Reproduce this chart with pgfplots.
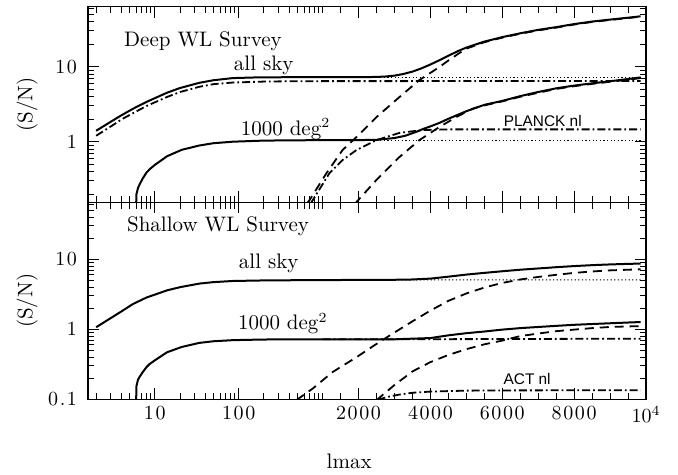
\documentclass[border=0pt]{standalone}
\usepackage{fontspec}
\newfontfamily\helv{Liberation Sans}
\newfontfamily\tickfont[LetterSpace=8]{Latin Modern Roman}
\usepackage{pgfplots}
\pgfplotsset{compat=1.18}

\tikzset{
  sol/.style={line width=1pt},
  dsh/.style={line width=0.9pt, dash pattern=on 4.5pt off 3pt},
  dd/.style={line width=0.9pt, dash pattern=on 4pt off 1.5pt on 0.9pt off 1.5pt},
  dot/.style={line width=0.5pt, dash pattern=on 0.6pt off 1.2pt},
}
\newcommand\lab{\fontsize{10.5}{12}\selectfont}
\newcommand\tck{\tickfont\fontsize{10}{12}\selectfont}
\newcommand\xlist{2,3,4,5,6,7,8,9,20,30,40,50,60,70,80,90,200,300,400,500,600,700,800,900,1000,1500,2500,3000,3500,4500,5000,5500,6500,7000,7500,8500,9000,9500}
\newcommand\ylist{0.2,0.3,0.4,0.5,0.6,0.7,0.8,0.9,2,3,4,5,6,7,8,9,20,30,40,50,60}

\begin{document}
\begin{tikzpicture}
% ---------------- Deep survey ----------------
\begin{axis}[name=top, at={(0,0)}, anchor=south west,
  scale only axis, width=279pt, height=97.8pt,
  % x axis: log up to l=1000, linear above
  x coord trafo/.code={\pgfmathparse{#1<=1000 ? log10(#1) : 3+(#1-1000)/2335}},
  xmin=1.6, xmax=10000,
  ymode=log, ymin=0.1556, ymax=63.1,
  xtick={10,100,2000,4000,6000,8000,10000}, xticklabels={,,,,,,},
  minor xtick/.expanded={\xlist},
  ytick={1,10}, yticklabels={1,10},
  minor ytick/.expanded={\ylist},
  tick pos=both, tick align=inside,
  major tick length=5.5pt, minor tick length=3.2pt,
  every tick/.style={black, line width=0.45pt},
  axis line style={line width=0.7pt},
  tick label style={font=\tck},
  yticklabel style={xshift=-2pt},
  label style={font=\lab},
  ylabel={(S/N)},
  ylabel style={at={(rel axis cs:-0.1093,0.5)}, anchor=center},
  no markers]
% all sky, solid
\addplot[black, sol] coordinates {(2,1.40)(3,1.85)(4,2.25)(5.5,2.75)(8,3.4)(14,4.5)(20,5.2)(34,6.1)(50,6.6)(85,7.05)(150,7.18)(215,7.22)(500,7.25)(1000,7.25)(2000,7.26)(2500,7.3)(2750,7.4)(3000,7.6)(3250,8.0)(3500,8.6)(3750,9.5)(4000,10.7)(4250,12.2)(4500,14.0)(4750,16.0)(5000,18.0)(5500,21.6)(6000,24.8)(6500,27.9)(7000,31)(7500,33.7)(8000,37)(8500,40)(9000,42.5)(9500,45)(9850,47)};
% all sky, dash-dot
\addplot[black, dd] coordinates {(2,1.2)(3,1.6)(4,1.98)(5.5,2.4)(8,3.0)(14,3.95)(20,4.6)(34,5.4)(50,5.85)(85,6.15)(215,6.35)(500,6.4)(1000,6.42)(9850,6.45)};
% all sky, dotted
\addplot[black, dot] coordinates {(1000,7.25)(9850,7.25)};
% all sky, dashed
\addplot[black, dsh] coordinates {(650,0.15)(700,0.167)(1111,0.383)(1556,0.775)(1944,1.155)(2500,2.13)(3139,3.94)(3694,6.64)(4250,9.9)(4500,12.1)(4806,15.2)(5000,17.4)(5500,21.2)(6000,24.4)(6500,27.5)(7000,30.5)(7500,33.2)(8000,36.5)(8500,39.5)(9000,42)(9500,44.5)(9850,46.5)};
% 1000 deg2, solid
\addplot[black, sol] coordinates {(6.0,0.147)(6.05,0.2)(6.3,0.24)(6.6,0.27)(7.2,0.325)(8,0.39)(8.7,0.43)(10,0.49)(14,0.64)(21,0.78)(34,0.89)(50,0.955)(85,1.0)(200,1.035)(1000,1.05)(2000,1.05)(2500,1.06)(3000,1.12)(3300,1.2)(3600,1.35)(3800,1.48)(4000,1.6)(4250,1.78)(4500,2.02)(5000,2.55)(5500,3.1)(6000,3.5)(6500,4.05)(7000,4.6)(7500,5.15)(8000,5.6)(8500,6.0)(9000,6.4)(9500,6.85)(9850,7.2)};
% 1000 deg2, dotted
\addplot[black, dot] coordinates {(1000,1.05)(9850,1.05)};
% PLANCK nl, dash-dot
\addplot[black, dd] coordinates {(720,0.15)(740,0.157)(1194,0.383)(1556,0.57)(1944,0.775)(2500,1.05)(3139,1.31)(3778,1.43)(4500,1.46)(9850,1.46)};
% 1000 deg2, dashed
\addplot[black, dsh] coordinates {(1900,0.145)(1944,0.157)(2500,0.31)(3139,0.625)(3694,1.05)(4250,1.57)(4722,2.13)(5167,2.75)(5500,3.05)(6000,3.45)(6500,3.97)(7000,4.5)(7500,5.05)(8000,5.5)(8500,5.9)(9000,6.3)(9500,6.7)(9850,7.05)};
\node[font=\lab, anchor=base] at (rel axis cs:0.206,0.795) {Deep WL Survey};
\node[font=\lab, anchor=base] at (rel axis cs:0.315,0.676) {all sky};
\node[font=\lab, anchor=base] at (rel axis cs:0.354,0.344) {1000 deg$^2$};
\node[font=\helv\fontsize{7.7}{9}\selectfont, anchor=base] at (rel axis cs:0.815,0.39) {PLANCK nl};
\end{axis}
% ---------------- Shallow survey ----------------
\begin{axis}[name=bot, at={(0,0)}, anchor=north west,
  scale only axis, width=279pt, height=98.5pt,
  x coord trafo/.code={\pgfmathparse{#1<=1000 ? log10(#1) : 3+(#1-1000)/2335}},
  xmin=1.6, xmax=10000,
  ymode=log, ymin=0.1, ymax=65.2,
  xtick={10,100,2000,4000,6000,8000,10000},
  xticklabels={10,100,2000,4000,6000,8000,$10^4$},
  minor xtick/.expanded={\xlist},
  ytick={0.1,1,10}, yticklabels={0.1,1,10},
  minor ytick/.expanded={\ylist},
  tick pos=both, tick align=inside,
  major tick length=5.5pt, minor tick length=3.2pt,
  every tick/.style={black, line width=0.45pt},
  axis line style={line width=0.7pt},
  tick label style={font=\tck},
  yticklabel style={xshift=-2pt},
  label style={font=\lab},
  ylabel={(S/N)},
  ylabel style={at={(rel axis cs:-0.1093,0.5)}, anchor=center},
  xlabel={lmax},
  xlabel style={at={(rel axis cs:0.468,-0.3487)}, anchor=base},
  no markers]
% all sky, solid
\addplot[black, sol] coordinates {(2,1.07)(3,1.45)(4,1.8)(5.5,2.3)(8,2.85)(14,3.6)(20,4.0)(34,4.5)(50,4.72)(85,4.9)(215,5.0)(1000,5.05)(3000,5.1)(3500,5.15)(4000,5.3)(4500,5.65)(5000,6.05)(5500,6.4)(6000,6.75)(6500,7.1)(7000,7.4)(7583,7.77)(8000,8.0)(8500,8.25)(9000,8.45)(9500,8.6)(9850,8.7)};
% all sky, dotted
\addplot[black, dot] coordinates {(1000,5.05)(3000,5.1)(9850,5.1)};
% all sky, dashed
\addplot[black, dsh] coordinates {(490,0.097)(503,0.1)(760,0.142)(1278,0.245)(1944,0.40)(2583,0.66)(3000,0.9)(3500,1.3)(4000,1.85)(4500,2.55)(5000,3.25)(5500,3.95)(6000,4.6)(6500,5.15)(7000,5.6)(7500,6.0)(8000,6.4)(8500,6.7)(9000,6.95)(9500,7.1)(9850,7.2)};
% 1000 deg2, solid
\addplot[black, sol] coordinates {(6.0,0.1)(6.05,0.155)(6.3,0.19)(6.6,0.21)(7.2,0.245)(8,0.29)(8.7,0.32)(10,0.36)(14,0.47)(21,0.56)(34,0.64)(50,0.675)(85,0.70)(200,0.715)(1000,0.72)(3000,0.72)(4000,0.75)(4500,0.82)(5000,0.88)(5500,0.93)(6000,0.99)(6500,1.04)(7000,1.08)(7500,1.12)(8000,1.16)(8500,1.19)(9000,1.22)(9500,1.25)(9850,1.27)};
% 1000 deg2, dash-dot
\addplot[black, dd] coordinates {(1000,0.72)(3000,0.72)(9850,0.735)};
% 1000 deg2, dashed
\addplot[black, dsh] coordinates {(2500,0.097)(2528,0.1)(3000,0.16)(3500,0.25)(4000,0.34)(4500,0.43)(5000,0.52)(5500,0.61)(6000,0.69)(6500,0.8)(7000,0.87)(7500,0.94)(8000,0.99)(8500,1.04)(9000,1.08)(9500,1.1)(9850,1.11)};
% ACT nl, dash-dot
\addplot[black, dd] coordinates {(2550,0.095)(2583,0.1)(2800,0.108)(3139,0.117)(3500,0.124)(4000,0.129)(5000,0.133)(6000,0.134)(9850,0.135)};
\node[font=\lab, anchor=base] at (rel axis cs:0.233,0.851) {Shallow WL Survey};
\node[font=\lab, anchor=base] at (rel axis cs:0.324,0.665) {all sky};
\node[font=\lab, anchor=base] at (rel axis cs:0.349,0.352) {1000 deg$^2$};
\node[font=\helv\fontsize{7.7}{9}\selectfont, anchor=base] at (rel axis cs:0.787,0.073) {ACT nl};
\end{axis}
\path ([xshift=-44pt,yshift=3.35pt]top.north west) rectangle ([xshift=16pt,yshift=-37.35pt]bot.south east);
\end{tikzpicture}
\end{document}
